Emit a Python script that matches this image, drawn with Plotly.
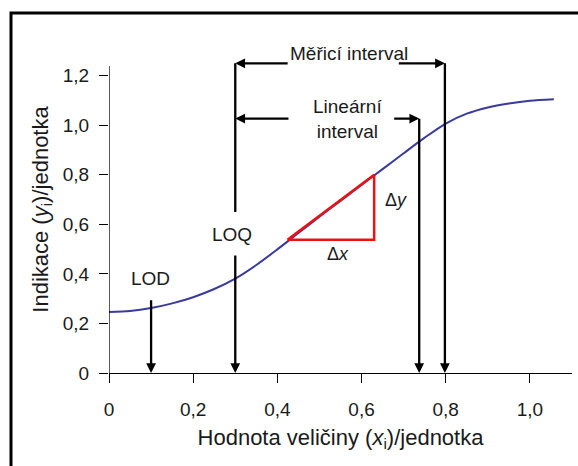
import plotly.graph_objects as go

# calibration curve
curve_x = [0.0, 0.05, 0.1, 0.15, 0.2, 0.25, 0.3, 0.35, 0.4, 0.45, 0.5, 0.55, 0.6, 0.65,
           0.7, 0.75, 0.8, 0.85, 0.9, 0.95, 1.0, 1.057]
curve_y = [0.246, 0.250, 0.262, 0.281, 0.306, 0.339, 0.381, 0.436, 0.499, 0.565, 0.631, 0.695,
           0.759, 0.823, 0.887, 0.950, 1.007, 1.047, 1.072, 1.088, 1.099, 1.105]

# slope triangle
tri_x = [0.424, 0.63, 0.63, 0.424]
tri_y = [0.538, 0.80, 0.538, 0.538]

# key positions
lod_x = 0.1
loq_x = 0.3
lin_end_x = 0.737
meas_end_x = 0.798
lod_top = 0.30
loq_gap = [0.48, 0.65]
meas_y = 1.25
lin_y = 1.027
meas_tails = [0.428, 0.685]
lin_tails = [0.43, 0.674]

x_ticks = [0, 0.2, 0.4, 0.6, 0.8, 1.0]
x_ticktext = ["0", "0,2", "0,4", "0,6", "0,8", "1,0"]
y_ticks = [0, 0.2, 0.4, 0.6, 0.8, 1.0, 1.2]
y_ticktext = ["0", "0,2", "0,4", "0,6", "0,8", "1,0", "1,2"]
y_axis_top = 1.239

FONT = "Liberation Sans, Arial, sans-serif"
TXT = "#1a1a1a"

fig = go.Figure()
fig.add_trace(go.Scatter(x=curve_x, y=curve_y, mode="lines",
                         line=dict(color="#3a3a9e", width=2, shape="spline", smoothing=0.8),
                         hoverinfo="skip"))
fig.add_trace(go.Scatter(x=tri_x, y=tri_y, mode="lines",
                         line=dict(color="#ee1111", width=2.5), hoverinfo="skip"))

def arrow(x, y, ax, ay, head=2):
    fig.add_annotation(x=x, y=y, ax=ax, ay=ay, xref="x", yref="y", axref="x", ayref="y",
                       text="", showarrow=True, arrowhead=head, arrowsize=0.85, arrowwidth=2.3,
                       arrowcolor="black", standoff=0, startstandoff=0)

# vertical lines
arrow(lod_x, 0, lod_x, lod_top)
arrow(loq_x, loq_gap[1], loq_x, meas_y + 0.006, head=0)
arrow(loq_x, 0, loq_x, loq_gap[0])
arrow(lin_end_x, 0, lin_end_x, lin_y + 0.005)
arrow(meas_end_x, 0, meas_end_x, meas_y + 0.006)
# horizontal arrows
arrow(loq_x, meas_y, meas_tails[0], meas_y)
arrow(meas_end_x, meas_y, meas_tails[1], meas_y)
arrow(loq_x, lin_y, lin_tails[0], lin_y)
arrow(lin_end_x, lin_y, lin_tails[1], lin_y)

def label(x, y, t, size=19):
    fig.add_annotation(x=x, y=y, xref="x", yref="y", text=t, showarrow=False,
                       font=dict(family=FONT, size=size, color=TXT))

label(0.570, 1.288, "Měřicí interval")
label(0.566, 1.025, "Lineární<br>interval")
label(0.098, 0.38, "LOD")
label(0.292, 0.56, "LOQ")
label(0.681, 0.70, "Δ<i>y</i>", 18)
label(0.545, 0.48, "Δ<i>x</i>", 18)

# y axis line (stops just above 1,2)
fig.add_shape(type="line", xref="x", yref="y", x0=0, x1=0, y0=0, y1=y_axis_top,
              line=dict(color="black", width=1.3))
# outer frame
fig.add_shape(type="rect", xref="paper", yref="paper", x0=-98 / 463, x1=1.5, y0=-0.5,
              y1=1.0 + (46 - 13) / 327, line=dict(color="black", width=3))

fig.update_layout(
    width=578, height=466,
    margin=dict(l=109, r=6, t=46, b=93),
    paper_bgcolor="white", plot_bgcolor="white",
    showlegend=False,
    font=dict(family=FONT, size=19, color=TXT),
)
fig.update_xaxes(range=[0, 1.1], showgrid=False, zeroline=False, showline=True,
                 linecolor="black", linewidth=1.3, ticks="outside", ticklen=9, tickwidth=1.3,
                 tickcolor="black", tickvals=x_ticks, ticktext=x_ticktext, ticklabelstandoff=10,
                 tickfont=dict(family=FONT, size=19, color=TXT),
                 title=dict(text="Hodnota veličiny (<i>x</i><sub>i</sub>)/jednotka",
                            font=dict(family=FONT, size=22, color=TXT), standoff=10))
fig.update_yaxes(range=[0, 1.32], showgrid=False, zeroline=False, showline=False,
                 ticks="outside", ticklen=9, tickwidth=1.3, tickcolor="black",
                 tickvals=y_ticks, ticktext=y_ticktext, ticklabelstandoff=6,
                 tickfont=dict(family=FONT, size=19, color=TXT),
                 title=dict(text="Indikace (<i>y</i><sub>i</sub>)/jednotka",
                            font=dict(family=FONT, size=22, color=TXT), standoff=8))

fig.write_html("out.html")
